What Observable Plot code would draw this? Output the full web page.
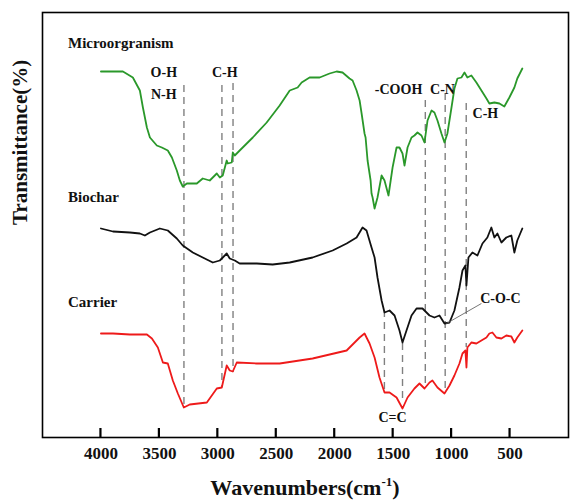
<!DOCTYPE html>
<html><head><meta charset="utf-8">
<script src="https://cdn.jsdelivr.net/npm/d3@7"></script>
<script src="https://cdn.jsdelivr.net/npm/@observablehq/plot@0.6"></script>
<style>body{margin:0;background:#fff;} svg{display:block}</style>
</head><body><div id="chart"></div>
<script>
// ---- Data (wavenumber in cm-1, transmittance in arbitrary offset units) ----
const microWn = [4000,3897,3812,3727,3667,3641,3607,3581,3522,3479,3428,3393,3351,3325,3300,3265,3223,3180,3129,3069,3009,2983,2958,2924,2915,2881,2872,2855,2813,2701,2582,2471,2385,2317,2283,2215,2129,2044,1984,1933,1873,1847,1813,1787,1770,1745,1736,1719,1693,1685,1676,1659,1634,1599,1574,1540,1505,1471,1446,1420,1403,1377,1343,1318,1292,1258,1232,1206,1172,1147,1121,1087,1061,1036,1001,976,950,916,890,865,831,788,745,702,677,634,591,549,506,463,438,395];
const microT  = [73.2,73.2,73.2,72,69.4,66,62,60,58.4,58,57.4,56,53.4,51.4,50.2,50.8,50.8,50.8,51.8,51.4,52.8,52,52.4,55.4,54.8,55,57,56.4,57.4,60,63,66.4,69.4,70,71,72,72,72.8,73.2,73,71.8,71.4,69.4,67.4,64.8,60.8,60,55.4,51.4,48.8,48,45.8,48,52.4,51.4,48.4,54,58,58,56.8,54.4,58,60,60.4,61,60.4,59,63.4,65.4,65,63.4,60.8,59,60.8,66,69.8,71.8,72,73,72,72.4,71,69.4,67.8,66.8,67,66.8,66.2,68,70,71.8,73.8];

const biocharWn = [4000,3897,3752,3667,3624,3581,3496,3428,3351,3300,3214,3129,3043,2983,2924,2898,2855,2813,2667,2531,2385,2189,2018,1898,1813,1762,1728,1685,1659,1634,1599,1574,1531,1488,1446,1420,1386,1343,1300,1249,1189,1147,1104,1061,1018,976,933,907,882,873,856,822,779,736,694,660,634,608,574,532,489,463,438,395];
const biocharT  = [41.8,41.2,41,40.8,40.4,41,41.8,41.4,39.8,38.4,37,36,35,35.4,36.8,35.8,35.4,34.8,34.8,34.6,35,36,37.4,38.8,40,42,41.4,38,36,32,27.4,25,25.4,24.4,21.4,19,21.4,24.4,25.8,25.8,24.4,24,24.4,22.8,23,25.4,30,33.4,34.4,30.4,36,37,36.4,38.8,40,42,40,40.8,39,40,40.4,37,39.4,41.8];

const carrierWn = [4000,3897,3752,3607,3564,3513,3470,3428,3385,3342,3291,3240,3094,3009,2966,2924,2898,2872,2838,2667,2471,2189,1898,1787,1745,1702,1659,1617,1574,1531,1471,1420,1377,1318,1275,1232,1189,1164,1121,1061,1018,976,933,907,882,873,865,831,788,745,702,677,651,617,574,532,489,463,438,395];
const carrierT  = [20.8,20.8,20.6,20.6,19.8,18,15,14.8,11.4,8.8,6,6.6,7,9.8,10,14.4,13.4,13.2,15,14.8,14.8,15.8,17.4,20,20.8,18.8,16,12,9,9,8,5.8,8,9.8,10.8,9.8,11,11.4,10,8.8,10.4,12.4,14.8,16.8,17.4,14,18,19,18.8,19.4,20,20.8,21,20,19.8,20.4,20.2,19,20,21.4];

const seriesNames  = ["Microorgranism", "Biochar", "Carrier"];
const seriesColors = ["#2a982a", "#111111", "#ee1a1a"];
const seriesLabelWn = [4282, 4282, 4282];
const seriesLabelT  = [78.8, 48, 27];

const xTicks = [4000, 3500, 3000, 2500, 2000, 1500, 1000, 500];

// dashed band markers
const bandWn     = [3290, 2965, 2870, 1575, 1420, 1225, 1055, 875];
const bandTop    = [70.4, 70.4, 70.8, 25.4, 18.8, 67.4, 68.8, 66.8];
const bandBottom = [6.4, 10, 13, 8.8, 6.8, 10.4, 9, 18];

// group annotations
const annText = ["O-H", "N-H", "C-H", "-COOH", "C-N", "C-H", "C-O-C", "C=C"];
const annWn   = [3462, 3462, 2941, 1454, 1078, 711, 583, 1505];
const annT    = [73, 68.6, 73, 69.6, 69.6, 64.8, 27.8, 4];

// leader line for C-O-C
const leaderWn = [1044, 745];
const leaderT  = [22.8, 26.8];

// ---- Build tables ----
const seriesData = [[microWn, microT], [biocharWn, biocharT], [carrierWn, carrierT]]
  .map(([w, t], i) => w.map((wn, j) => ({series: seriesNames[i], wn, t: t[j]})));
const bands = bandWn.map((wn, i) => ({wn, top: bandTop[i], bottom: bandBottom[i]}));
const anns = annText.map((text, i) => ({text, wn: annWn[i], t: annT[i]}));
const seriesLabels = seriesNames.map((name, i) => ({name, wn: seriesLabelWn[i], t: seriesLabelT[i]}));

const font = "'Liberation Serif', 'Times New Roman', serif";

const chart = Plot.plot({
  width: 570,
  height: 500,
  marginTop: 12,
  marginBottom: 63,
  marginLeft: 42,
  marginRight: 2,
  style: {fontFamily: font, background: "#fff", overflow: "visible"},
  x: {domain: [4500, 0], ticks: xTicks, tickSize: 0, tickPadding: 9, tickFormat: d => String(d), label: null, fontSize: 17},
  y: {domain: [0, 85], axis: null},
  marks: [
    Plot.ruleX(bands, {x: "wn", y1: "top", y2: "bottom", stroke: "#808080", strokeWidth: 1.4, strokeDasharray: "7,5"}),
    ...seriesData.map((d, i) => Plot.line(d, {x: "wn", y: "t", stroke: seriesColors[i], strokeWidth: 1.8, curve: "linear"})),
    Plot.link([0], {x1: () => leaderWn[0], y1: () => leaderT[0], x2: () => leaderWn[1], y2: () => leaderT[1], stroke: "#666", strokeWidth: 0.9}),
    Plot.text(anns, {x: "wn", y: "t", text: "text", fontSize: 14, fontWeight: "bold", fill: "#111"}),
    Plot.text(seriesLabels, {x: "wn", y: "t", text: "name", textAnchor: "start", fontSize: 15, fontWeight: "bold", fill: "#111"}),
    Plot.text(["Transmittance(%)"], {frameAnchor: "left", rotate: -90, dx: -22, fontSize: 21, fontWeight: "bold", fill: "#111"}),
    Plot.frame({stroke: "#000", strokeWidth: 1.6})
  ]
});

const svg = d3.select(chart);
svg.selectAll("[aria-label='x-axis tick label']").attr("font-weight", "bold").attr("font-size", 17).attr("fill", "#111");

// inward tick marks using Plot's x scale
const xs = chart.scale("x");
const ys = chart.scale("y");
const yBottom = ys.apply(ys.domain[0]);
svg.append("g").attr("class", "inward-ticks")
  .selectAll("path").data(xTicks).join("path")
  .attr("d", d => `M${xs.apply(d)},${yBottom}V${yBottom - 9}`)
  .attr("fill", "none")
  .attr("stroke", "#000").attr("stroke-width", 2.2);

// x-axis title with superscript
const xr = xs.range;
const title = svg.append("text")
  .attr("x", (xr[0] + xr[1]) / 2).attr("y", 495)
  .attr("text-anchor", "middle")
  .attr("font-family", font).attr("font-weight", "bold").attr("font-size", 22).attr("fill", "#111");
title.append("tspan").text("Wavenumbers(cm");
title.append("tspan").attr("dy", -9).attr("font-size", 13).text("-1");
title.append("tspan").attr("dy", 9).text(")");

document.getElementById("chart").appendChild(chart);
</script>
</body></html>
